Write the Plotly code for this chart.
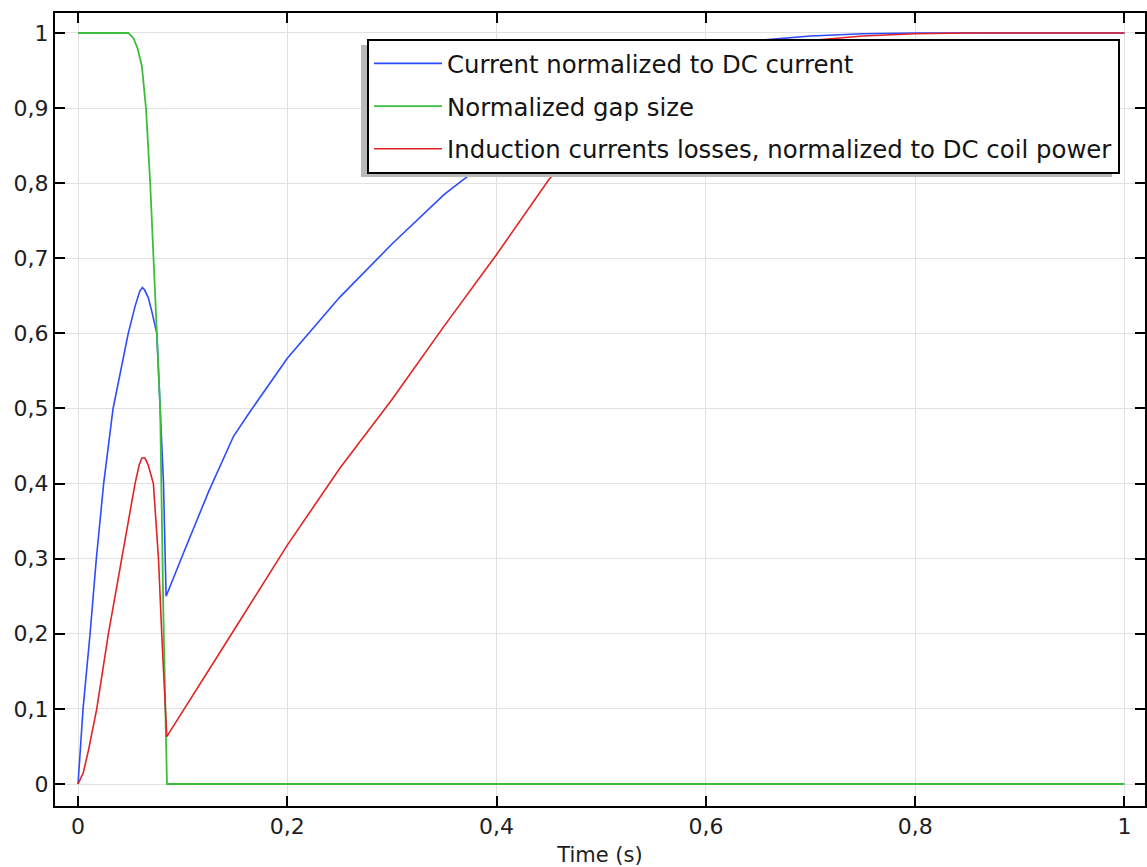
import plotly.graph_objects as go

# Time axis (s) and normalized quantities
t_current = [0, 0.0048, 0.0115, 0.0175, 0.0245, 0.0335, 0.048, 0.0545, 0.059, 0.0615,
             0.0635, 0.067, 0.0704, 0.0753, 0.0785, 0.0817, 0.0833, 0.0842, 0.1, 0.125,
             0.1486, 0.163, 0.2, 0.25, 0.3, 0.35, 0.375, 0.4, 0.45, 0.5, 0.55, 0.6,
             0.65, 0.7, 0.75, 0.8, 0.9, 1.0]
current = [0, 0.1, 0.2, 0.3, 0.4, 0.5, 0.6, 0.636, 0.656, 0.661,
           0.658, 0.648, 0.63, 0.6, 0.5, 0.4, 0.3, 0.25, 0.305, 0.39,
           0.463, 0.493, 0.567, 0.648, 0.719, 0.785, 0.812, 0.838, 0.885, 0.925, 0.955, 0.976,
           0.99, 0.996, 0.999, 1.0, 1.0, 1.0]

t_gap = [0, 0.048, 0.053, 0.057, 0.061, 0.065, 0.069, 0.072, 0.0737, 0.0785,
         0.0815, 0.084, 0.085, 0.2, 0.4, 0.6, 0.8, 1.0]
gap = [1, 1, 0.993, 0.979, 0.956, 0.899, 0.799, 0.699, 0.65, 0.5,
       0.23, 0.06, 0.0, 0.0, 0.0, 0.0, 0.0, 0.0]

t_losses = [0, 0.005, 0.01, 0.0179, 0.029, 0.0418, 0.0545, 0.0585, 0.061, 0.064,
            0.067, 0.072, 0.0769, 0.08, 0.0833, 0.0848, 0.15, 0.2, 0.25, 0.3,
            0.35, 0.4, 0.45, 0.5, 0.55, 0.6, 0.65, 0.7, 0.75, 0.8, 0.85, 0.9, 1.0]
losses = [0, 0.015, 0.045, 0.1, 0.2, 0.3, 0.4, 0.425, 0.434, 0.434,
          0.425, 0.4, 0.3, 0.2, 0.1, 0.063, 0.207, 0.318, 0.42, 0.512,
          0.61, 0.705, 0.805, 0.885, 0.935, 0.965, 0.98, 0.99, 0.996, 0.999, 1.0, 1.0, 1.0]

x_ticks = [0, 0.2, 0.4, 0.6, 0.8, 1]
y_ticks = [0, 0.1, 0.2, 0.3, 0.4, 0.5, 0.6, 0.7, 0.8, 0.9, 1]

FONT = "DejaVu Sans"

fig = go.Figure()
fig.add_trace(go.Scatter(x=t_current, y=current, mode="lines",
                         name="Current normalized to DC current", legendgroup="a",
                         line=dict(color="rgb(45,75,255)", width=1.6)))
fig.add_trace(go.Scatter(x=t_gap, y=gap, mode="lines",
                         name="Normalized gap size", legendgroup="b",
                         line=dict(color="rgb(60,190,60)", width=1.8)))
fig.add_trace(go.Scatter(x=t_losses, y=losses, mode="lines",
                         name="Induction currents losses, normalized to DC coil power",
                         legendgroup="c",
                         line=dict(color="rgb(225,35,35)", width=1.6)))

# plot area geometry in pixels (for the legend shadow)
W, H = 1147, 867
ml, mr, mt, mb = 55, 2, 13, 61
pw, ph = W - ml - mr, H - mt - mb


def px_x(px):
    return (px - ml) / pw


def px_y(py):
    return (H - mb - py) / ph


# drop shadow behind the legend box
fig.add_shape(type="rect", xref="paper", yref="paper",
              x0=px_x(361), x1=px_x(1112), y0=px_y(177), y1=px_y(45),
              fillcolor="rgb(185,185,185)", line=dict(width=0), layer="above")

axis_common = dict(
    showline=True, linecolor="black", linewidth=2, mirror="ticks",
    ticks="inside", ticklen=10, tickwidth=2, tickcolor="black",
    showgrid=True, gridcolor="rgb(225,225,225)", gridwidth=1,
    zeroline=False, tickfont=dict(family=FONT, size=22, color="rgb(30,30,30)"),
    automargin=False,
)

fig.update_layout(
    width=W, height=H,
    margin=dict(l=ml, r=mr, t=mt, b=mb),
    paper_bgcolor="white", plot_bgcolor="white",
    separators=", ",
    font=dict(family=FONT, color="rgb(30,30,30)"),
    xaxis=dict(range=[-0.022, 1.0196], tickvals=x_ticks,
               title=dict(text="Time (s)", font=dict(family=FONT, size=21), standoff=9),
               **axis_common),
    yaxis=dict(range=[-0.0293, 1.0266], tickvals=y_ticks, **axis_common),
    legend=dict(x=px_x(367), y=px_y(39), xanchor="left", yanchor="top",
                bgcolor="white", bordercolor="black", borderwidth=2,
                font=dict(family=FONT, size=24.4, color="rgb(20,20,20)"),
                itemwidth=68, tracegroupgap=8),
    showlegend=True,
)

fig.write_html("out.html")
